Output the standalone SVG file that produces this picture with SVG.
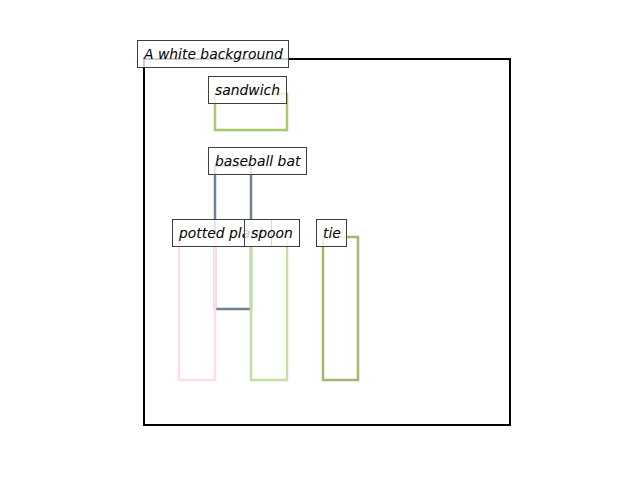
<svg xmlns="http://www.w3.org/2000/svg" width="640" height="480" viewBox="0 0 640 480">
<style>
.box{fill:none;stroke-width:2.5}
.lbl{fill:#ffffff;fill-opacity:0.8;stroke:#3f3f3f;stroke-width:1}
text{font-family:"DejaVu Sans",sans-serif;font-style:italic;font-size:13.9px;fill:#000}
</style>
<rect width="640" height="480" fill="#ffffff"/>
<g id="background">
<rect x="144" y="59" width="366" height="366" fill="none" stroke="#000" stroke-width="2"/>
</g>
<g id="sandwich">
<rect class="box" x="215" y="94" width="72" height="36" stroke="#a8c86e"/>
</g>
<g id="baseball-bat">
<rect class="box" x="215" y="166" width="36" height="143" stroke="#6e8293"/>
</g>
<g id="potted-plant">
<rect class="box" x="179" y="237" width="36" height="143" stroke="#ffdcf0"/>
</g>
<g id="spoon">
<rect class="box" x="251" y="237" width="36" height="143" stroke="#c5dea5"/>
</g>
<g id="tie">
<rect class="box" x="323" y="237" width="35" height="143" stroke="#a0b96e"/>
</g>
<g id="connectors"></g>
<g id="labels">
<g id="label-background"><rect class="lbl" x="137.5" y="40.5" width="151" height="27"/><text x="144" y="59">A white background</text></g>
<g id="label-sandwich"><rect class="lbl" x="208.5" y="76.5" width="78" height="27"/><text x="215" y="95">sandwich</text></g>
<g id="label-bat"><rect class="lbl" x="208.5" y="147.5" width="98" height="27"/><text x="215" y="166">baseball bat</text></g>
<g id="label-plant"><rect class="lbl" x="172.5" y="219.5" width="99" height="27"/><text x="179" y="238">potted plant</text></g>
<g id="label-spoon"><rect class="lbl" x="244.5" y="219.5" width="55" height="27"/><text x="251" y="238">spoon</text></g>
<g id="label-tie"><rect class="lbl" x="316.5" y="219.5" width="30" height="27"/><text x="323" y="238">tie</text></g>
</g>
</svg>
